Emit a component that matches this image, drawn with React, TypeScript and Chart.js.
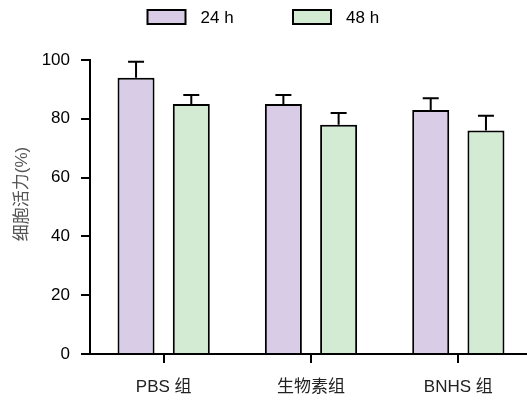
import React, { useEffect, useRef } from "react";
import { Chart, registerables } from "chart.js";

Chart.register(...registerables);

const categories = ["PBS 组", "生物素组", "BNHS 组"];
const seriesNames = ["24 h", "48 h"];
const values24h = [94, 85, 83];
const values48h = [85, 78, 76];
const errors24h = [5.4, 3.1, 4];
const errors48h = [3.1, 4, 5];
const yTicks = [0, 20, 40, 60, 80, 100];
const yTitle = "细胞活力(%)";

const FONT = "Arial, 'Liberation Sans', 'Noto Sans CJK SC', sans-serif";

const errorBarPlugin = {
  id: "errorBars",
  afterDatasetsDraw(chart: any) {
    const ctx = chart.ctx;
    const yScale = chart.scales.y;
    chart.data.datasets.forEach((ds: any, di: number) => {
      const meta = chart.getDatasetMeta(di);
      const errs: number[] = ds.errors || [];
      meta.data.forEach((bar: any, i: number) => {
        const v = ds.data[i];
        const top = yScale.getPixelForValue(v + errs[i]);
        const base = yScale.getPixelForValue(v);
        const x = bar.x;
        ctx.save();
        ctx.strokeStyle = "#000";
        ctx.lineWidth = 2;
        ctx.beginPath();
        ctx.moveTo(x, base);
        ctx.lineTo(x, top);
        ctx.moveTo(x - 8, top);
        ctx.lineTo(x + 8, top);
        ctx.stroke();
        ctx.restore();
      });
    });
  },
};

const legendPlugin = {
  id: "topLegend",
  afterDraw(chart: any) {
    const ctx = chart.ctx;
    const cx = 267.5;
    const cy = 17;
    const offsets = [-120, 25.5];
    ctx.save();
    ctx.font = `17px ${FONT}`;
    ctx.textBaseline = "middle";
    ctx.textAlign = "left";
    chart.data.datasets.forEach((ds: any, i: number) => {
      const bx = cx + offsets[i];
      ctx.fillStyle = ds.backgroundColor;
      ctx.fillRect(bx, cy - 7, 38, 14);
      ctx.strokeStyle = "#000";
      ctx.lineWidth = 2;
      ctx.strokeRect(bx, cy - 7, 38, 14);
      ctx.fillStyle = "#000";
      ctx.fillText(ds.label, bx + 53, cy + 1);
    });
    // y-axis title
    ctx.save();
    ctx.translate(22, 194);
    ctx.rotate(-Math.PI / 2);
    ctx.textAlign = "center";
    ctx.textBaseline = "middle";
    ctx.fillStyle = "#555";
    ctx.font = `17px ${FONT}`;
    ctx.fillText(yTitle, 0, 0);
    ctx.restore();
    ctx.restore();
  },
};

export default function App() {
  const ref = useRef<HTMLCanvasElement | null>(null);
  useEffect(() => {
    if (!ref.current) return;
    const chart = new Chart(ref.current, {
      type: "bar",
      data: {
        labels: categories,
        datasets: [
          {
            label: seriesNames[0],
            data: values24h,
            errors: errors24h,
            backgroundColor: "#d9cce6",
            borderColor: "#000",
            borderWidth: 2,
            categoryPercentage: 0.75,
            barPercentage: 0.67,
          } as any,
          {
            label: seriesNames[1],
            data: values48h,
            errors: errors48h,
            backgroundColor: "#d4ebd3",
            borderColor: "#000",
            borderWidth: 2,
            categoryPercentage: 0.75,
            barPercentage: 0.67,
          } as any,
        ],
      },
      options: {
        animation: false,
        responsive: false,
        maintainAspectRatio: false,
        layout: { padding: { top: 60, left: 0, right: 3, bottom: 0 } },
        plugins: {
          legend: { display: false },
          tooltip: { enabled: false },
        },
        scales: {
          x: {
            offset: true,
            afterFit: (s: any) => {
              s.height = 47;
            },
            grid: {
              offset: false,
              drawOnChartArea: false,
              drawTicks: true,
              tickLength: 9,
              color: "#000",
              lineWidth: 2,
            },
            border: { display: true, color: "#000", width: 2 },
            ticks: {
              color: "#222",
              padding: 14,
              font: { family: FONT, size: 17 },
            },
          },
          y: {
            min: 0,
            max: 100,
            afterFit: (s: any) => {
              s.width = 90;
            },
            afterBuildTicks: (axis: any) => {
              axis.ticks = yTicks.map((v) => ({ value: v }));
            },
            grid: {
              drawOnChartArea: false,
              drawTicks: true,
              tickLength: 9,
              color: "#000",
              lineWidth: 2,
            },
            border: { display: true, color: "#000", width: 2 },
            ticks: {
              color: "#000",
              padding: 11,
              font: { family: FONT, size: 17 },
            },
          },
        },
      },
      plugins: [errorBarPlugin, legendPlugin],
    } as any);
    return () => chart.destroy();
  }, []);
  return (
    <div
      style={{
        position: "fixed",
        left: 0,
        top: 0,
        width: 527,
        height: 401,
        overflow: "hidden",
        background: "#fff",
      }}
    >
      <canvas ref={ref} width={535} height={401} style={{ display: "block" }} />
    </div>
  );
}
